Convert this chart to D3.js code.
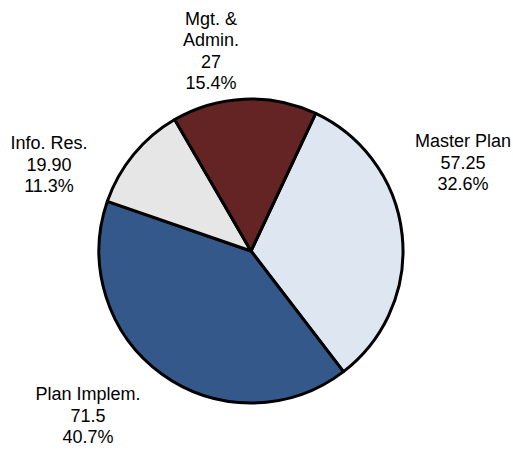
<!DOCTYPE html>
<html>
<head>
<meta charset="utf-8">
<script src="https://cdn.jsdelivr.net/npm/d3@7"></script>
<style>
  html, body { margin: 0; padding: 0; background: #fff; }
  svg { display: block; }
  text { font-family: "Liberation Sans", Arial, sans-serif; font-size: 18px; fill: #000; }
</style>
</head>
<body>
<svg id="chart" width="513" height="449"></svg>
<script>
// Budget breakdown by component
const categories = ["Master Plan", "Plan Implem.", "Info. Res.", "Mgt. & Admin."];
const labelLines = [["Master Plan"], ["Plan Implem."], ["Info. Res."], ["Mgt. &", "Admin."]];
const values = [57.25, 71.5, 19.90, 27];
const valueLabels = ["57.25", "71.5", "19.90", "27"];
const colors = ["#dee6f2", "#35588a", "#e6e6e6", "#632423"];

const width = 513, height = 449;
const cx = 251, cy = 251, radius = 152;

// Label anchor points (centre x, first baseline y)
const labelAnchors = [[463, 147], [88, 400], [49, 149], [211, 24.5]];
const lineHeight = 21.5;

const svg = d3.select("#chart");
const g = svg.append("g").attr("transform", `translate(${cx},${cy})`);

const total = d3.sum(values);
const startDeg = 25.2;
const pie = d3.pie()
  .sort(null)
  .value(d => d)
  .startAngle(startDeg * Math.PI / 180)
  .endAngle((startDeg + 360) * Math.PI / 180);

const arc = d3.arc().innerRadius(0).outerRadius(radius);
const arcs = pie(values);

g.selectAll("path.slice")
  .data(arcs)
  .join("path")
  .attr("class", "slice")
  .attr("d", arc)
  .attr("fill", (d, i) => colors[i])
  .attr("stroke", "#000")
  .attr("stroke-width", 3)
  .attr("stroke-linejoin", "round");

const fmtPct = d3.format(".1%");

const labels = svg.selectAll("text.lbl")
  .data(arcs)
  .join("text")
  .attr("class", "lbl")
  .attr("text-anchor", "middle")
  .attr("x", (d, i) => labelAnchors[i][0])
  .attr("y", (d, i) => labelAnchors[i][1]);

labels.each(function(d, i) {
  const t = d3.select(this);
  const lines = labelLines[i].concat([valueLabels[i], fmtPct(d.value / total)]);
  lines.forEach((s, k) => {
    t.append("tspan")
      .attr("x", labelAnchors[i][0])
      .attr("dy", k === 0 ? 0 : lineHeight)
      .text(s);
  });
});
</script>
</body>
</html>
